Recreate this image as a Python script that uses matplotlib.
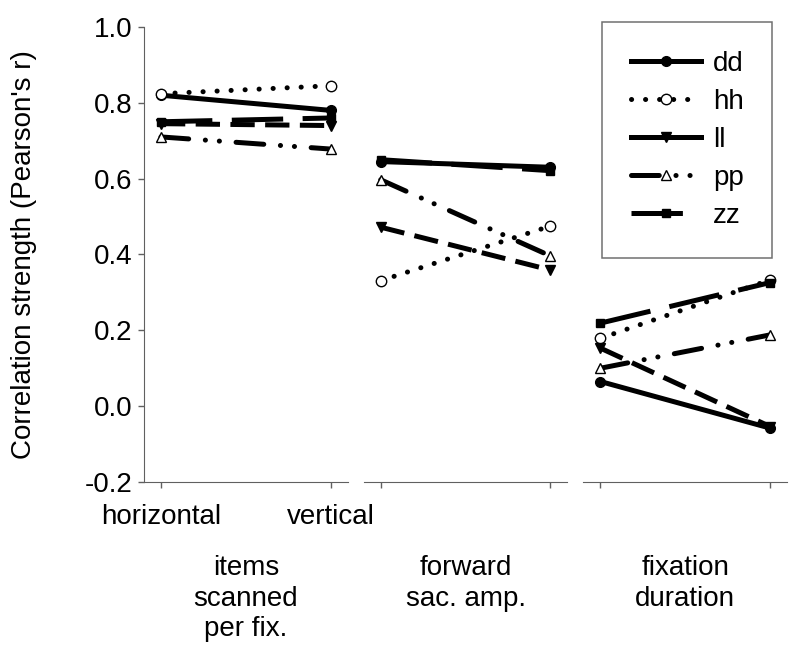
import matplotlib
matplotlib.use("Agg")
import matplotlib.pyplot as plt
from matplotlib.lines import Line2D

plt.rcParams["font.family"] = ["Liberation Sans", "DejaVu Sans"]

# each measure: (horizontal, vertical)
measures = ["items\nscanned\nper fix.", "forward\nsac. amp.", "fixation\nduration"]
conditions = ["horizontal", "vertical"]
series = ["dd", "hh", "ll", "pp", "zz"]

dd = [0.82, 0.78, 0.645, 0.63, 0.065, -0.058]
hh = [0.824, 0.845, 0.331, 0.475, 0.179, 0.333]
ll = [0.745, 0.74, 0.472, 0.359, 0.153, -0.054]
pp = [0.71, 0.678, 0.597, 0.396, 0.100, 0.188]
zz = [0.75, 0.76, 0.65, 0.621, 0.219, 0.326]
values = {"dd": dd, "hh": hh, "ll": ll, "pp": pp, "zz": zz}

FS = 20
LW = 3.6
styles = {
    "dd": dict(ls="-", marker="o", mfc="black", ms=7),
    "hh": dict(ls=(0, (0.1, 10)), marker="o", mfc="white", ms=7.5,
               dash_capstyle="round"),
    "ll": dict(ls=(0, (17.5, 7.5)), marker="v", mfc="black", ms=7.5),
    "pp": dict(ls=(0, (20, 12, 0.1, 10, 0.1, 12)), marker="^", mfc="white",
               ms=7.5, dash_capstyle="round"),
    "zz": dict(ls=(0, (37, 14)), marker="s", mfc="black", ms=6),
}
plt.rcParams["lines.scale_dashes"] = False

fig, axes = plt.subplots(1, 3, sharey=True, figsize=(8, 6.66), dpi=100)
fig.subplots_adjust(left=0.18, right=0.984, top=0.9595, bottom=0.2763,
                    wspace=0.0785)

spine_col = "#606060"
for g, ax in enumerate(axes):
    for s in series:
        y = values[s][2 * g:2 * g + 2]
        ax.plot([0, 1], y, color="black", lw=LW, mec="black", mew=1,
                **styles[s])
    ax.set_xlim(-0.1, 1.1)
    ax.set_ylim(-0.2, 1.0)
    ax.spines[["top", "right"]].set_visible(False)
    ax.spines["bottom"].set_color(spine_col)
    ax.set_xticks([0, 1])
    ax.tick_params(axis="x", length=4.5, width=1, color=spine_col, pad=11,
                   labelsize=FS)
    if g == 0:
        ax.set_xticklabels(conditions)
        ax.spines["left"].set_color(spine_col)
        ax.set_yticks([-0.2, 0.0, 0.2, 0.4, 0.6, 0.8, 1.0])
        ax.set_yticklabels([f"{v:.1f}" for v in ax.get_yticks()])
        ax.tick_params(axis="y", length=4.5, width=1, color=spine_col, pad=4,
                       labelsize=FS)
        ax.set_ylabel("Correlation strength (Pearson's r)", fontsize=FS,
                      labelpad=34)
    else:
        ax.set_xticklabels([])
        ax.spines["left"].set_visible(False)
        ax.tick_params(axis="y", left=False)
    ax.text(0.5, -0.16, measures[g], transform=ax.transAxes, ha="center",
            va="top", fontsize=FS, linespacing=1.24)

handles = []
for s in series:
    st = dict(styles[s])
    if s == "ll":
        st["ls"] = "-"
    handles.append(Line2D([], [], color="black", lw=LW, mec="black", mew=1,
                          **st))
fig.legend(handles, series, loc="upper left", mode="expand",
           bbox_to_anchor=(602 / 800, (666 - 251) / 666, 170 / 800, 229 / 666),
           borderaxespad=0, fontsize=FS, fancybox=False, edgecolor="#707070",
           framealpha=1, borderpad=1.05, handlelength=2.52, handletextpad=0.43,
           labelspacing=0.43, numpoints=1).get_frame().set_linewidth(1.1)

fig.savefig("out.png", dpi=100)
